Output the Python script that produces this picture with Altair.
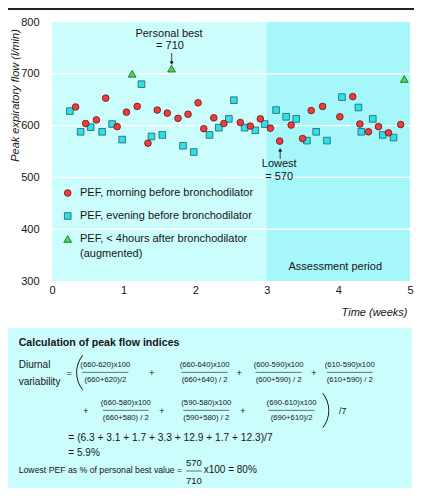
import altair as alt
import pandas as pd
import math

# ---------------- data ----------------
morning_weeks = [0.33, 0.47, 0.62, 0.75, 0.91, 1.04, 1.19, 1.34, 1.47, 1.61, 1.76, 1.90,
                 2.04, 2.12, 2.26, 2.40, 2.63, 2.77, 2.91, 3.05, 3.18, 3.34, 3.50, 3.62,
                 3.78, 4.02, 4.20, 4.30, 4.42, 4.56, 4.70, 4.87]
morning_pef = [636, 604, 611, 653, 598, 626, 637, 566, 630, 624, 614, 622,
               644, 594, 615, 604, 606, 599, 613, 595, 570, 601, 575, 629,
               637, 617, 656, 603, 588, 598, 586, 602]
evening_weeks = [0.25, 0.40, 0.54, 0.70, 0.84, 0.98, 1.25, 1.39, 1.54, 1.83, 1.98, 2.20,
                 2.33, 2.47, 2.54, 2.69, 2.84, 2.97, 3.13, 3.27, 3.41, 3.56, 3.69, 3.84,
                 4.05, 4.28, 4.32, 4.48, 4.62, 4.77]
evening_pef = [628, 588, 597, 588, 603, 573, 680, 579, 582, 561, 549, 582,
               596, 613, 649, 596, 591, 603, 630, 617, 613, 571, 588, 571,
               655, 635, 588, 613, 582, 577]
aug_weeks = [1.12, 1.67, 4.92]
aug_pef = [700, 710, 690]

x_ticks = [0, 1, 2, 3, 4, 5]
y_ticks = [300, 400, 500, 600, 700, 800]
grid_values = [400, 500, 600, 700]
assessment_start = [3]
assessment_end = [5]

legend_labels = ["PEF, morning before bronchodilator",
                 "PEF, evening before bronchodilator",
                 "PEF, < 4hours after bronchodilator",
                 "(augmented)"]

num_row1 = ["(660-620)x100", "(660-640)x100", "(600-590)x100", "(610-590)x100"]
den_row1 = ["(660+620)/2", "(660+640) / 2", "(600+590) / 2", "(610+590) / 2"]
num_row2 = ["(660-580)x100", "(590-580)x100", "(690-610)x100"]
den_row2 = ["(660+580) / 2", "(590+580) / 2", "(690+610)/2"]

# ---------------- layout ----------------
LEFT, RIGHT, TOP, BOTTOM = 44, 4, 14, 207
W, H = 358, 259
FONT = "Liberation Sans"
BG = "#ccfdfd"
BG_ASSESS = "#a6f7f9"
BOX = "#ccfdfd"
INK = "#151515"


def px(xref):
    # horizontal position inside the plot (reference page x -> plot-relative x)
    return (xref - 54) * W / 364.0


def bx(xref):
    # horizontal position for the calculation box (reference page x -> plot-relative x)
    return (xref - 3) * 404.0 / 415.0 - LEFT


xaxis = alt.Axis(values=x_ticks, grid=False, domain=False, ticks=False, labelPadding=3,
                 labelFlush=False, labelFont=FONT, labelFontSize=11, labelColor=INK,
                 title="Time (weeks)", titleFont=FONT, titleFontSize=11, titleFontStyle="italic",
                 titleFontWeight="normal", titleColor=INK, titleX=W - 3, titleY=34,
                 titleAlign="right", titleBaseline="alphabetic")
yaxis = alt.Axis(values=y_ticks, grid=False, domain=False, ticks=False, labelPadding=13,
                 labelFont=FONT, labelFontSize=11, labelColor=INK,
                 title="Peak expiratory flow (l/min)", titleFont=FONT, titleFontSize=11,
                 titleFontStyle="italic", titleFontWeight="normal", titleColor=INK,
                 titleX=-32, titleY=73, titleAlign="center", titleBaseline="bottom", titleAngle=270)

xscale = alt.Scale(domain=[0, 5], nice=False, zero=False)
yscale = alt.Scale(domain=[300, 800], nice=False, zero=False)


def X(f):
    return alt.X(f, type="quantitative", scale=xscale, axis=xaxis)


def Y(f):
    return alt.Y(f, type="quantitative", scale=yscale, axis=yaxis)


one = pd.DataFrame({"k": [0]})


def txt(s, x, y, size=11, align="left", weight="normal", style="normal"):
    return alt.Chart(one).mark_text(text=s, align=align, baseline="middle", font=FONT,
                                    fontSize=size, fontWeight=weight, fontStyle=style,
                                    color=INK).encode(x=alt.value(x), y=alt.value(y))


def hline(x1, x2, y, w=0.8, color=INK):
    return alt.Chart(one).mark_rule(color=color, strokeWidth=w).encode(
        x=alt.value(x1), x2=alt.value(x2), y=alt.value(y))


def vline(x, y1, y2, w=0.8):
    return alt.Chart(one).mark_rule(color=INK, strokeWidth=w).encode(
        x=alt.value(x), y=alt.value(y1), y2=alt.value(y2))


def sym(shape, x, y, fill, stroke, size):
    return alt.Chart(one).mark_point(shape=shape, filled=True, fill=fill, stroke=stroke,
                                     strokeWidth=0.8, size=size, opacity=1).encode(
        x=alt.value(x), y=alt.value(y))


def paren(cx, cy, r, mid_angle, half):
    # thin curved bracket drawn as a narrow arc band
    return alt.Chart(one).mark_arc(radius=r, radius2=r - 0.9, theta=mid_angle - half,
                                   theta2=mid_angle + half, color=INK).encode(
        x=alt.value(cx), y=alt.value(cy))


def frac(cx, ynum, yden, num, den, bw=46, size=7.7):
    ybar = (ynum + yden) / 2
    return [txt(num, cx, ynum, size=size, align="center"),
            hline(cx - bw / 2, cx + bw / 2, ybar, w=0.6),
            txt(den, cx, yden, size=size, align="center")]


RED, RED_S = "#f23c3c", "#5a1414"
CYN, CYN_S = "#33dfe6", "#1a6268"
GRN, GRN_S = "#44dd44", "#1d5a1d"

# ---------------- plot layers ----------------
assess = alt.Chart(pd.DataFrame({"start": assessment_start, "end": assessment_end})).mark_rect(
    color=BG_ASSESS).encode(x=X("start"), x2="end", y=alt.value(0), y2=alt.value(H))

grid = alt.Chart(pd.DataFrame({"v": grid_values})).mark_rule(color="white", strokeWidth=1.4).encode(
    y=Y("v"))

evening = alt.Chart(pd.DataFrame({"week": evening_weeks, "pef": evening_pef})).mark_point(
    shape="square", filled=True, fill=CYN, stroke=CYN_S, strokeWidth=0.8, size=44, opacity=1).encode(
    x=X("week"), y=Y("pef"))
morning = alt.Chart(pd.DataFrame({"week": morning_weeks, "pef": morning_pef})).mark_point(
    shape="circle", filled=True, fill=RED, stroke=RED_S, strokeWidth=0.8, size=44, opacity=1).encode(
    x=X("week"), y=Y("pef"))
aug = alt.Chart(pd.DataFrame({"week": aug_weeks, "pef": aug_pef})).mark_point(
    shape="triangle-up", filled=True, fill=GRN, stroke=GRN_S, strokeWidth=0.8, size=60, opacity=1).encode(
    x=X("week"), y=Y("pef"))

layers = [assess, grid, evening, morning, aug]

# annotations inside plot
layers += [txt("Personal best", px(173), 11.5, align="center"),
           txt("= 710", px(174), 23.5, align="center"),
           vline(px(175.7), 31, 40), sym("triangle-down", px(175.7), 41, INK, INK, 8)]
layers += [txt("Lowest", px(285), 141.5, align="center"),
           txt("= 570", px(285), 155, align="center"),
           vline(px(286), 129, 137), sym("triangle-up", px(286), 128, INK, INK, 8)]
layers += [txt("Assessment period", px(342), 245, align="center")]

# legend
layers += [sym("circle", px(70), 171, RED, RED_S, 44),
           sym("square", px(70), 194, CYN, CYN_S, 44),
           sym("triangle-up", px(70), 217, GRN, GRN_S, 60),
           txt(legend_labels[0], px(82.5), 171),
           txt(legend_labels[1], px(82.5), 194),
           txt(legend_labels[2], px(82.5), 217),
           txt(legend_labels[3], px(82.5), 231.5)]

# top rule
layers += [hline(-LEFT, W + RIGHT, -13, w=2, color="#222")]

# ---------------- calculation box ----------------
layers += [alt.Chart(one).mark_rect(color=BOX).encode(
    x=alt.value(bx(3)), x2=alt.value(bx(418)), y=alt.value(306), y2=alt.value(466))]
layers += [txt("Calculation of peak flow indices", bx(14), 320.5, size=10.6, weight="bold"),
           txt("Diurnal", bx(14), 343, size=10),
           txt("variability", bx(14), 359.5, size=10),
           txt("=", bx(66), 351, size=9.5, align="center"),
           paren(bx(73) + 28, 350.5, 28, 1.5 * math.pi, 0.68)]

cx1 = [103, 205, 281, 354]
plus1 = [150.7, 240.7, 317]
for i in range(4):
    layers += frac(bx(cx1[i]), 342.7, 358, num_row1[i], den_row1[i])
for p in plus1:
    layers += [txt("+", bx(p), 351, size=9.5, align="center")]

cx2 = [124, 206.7, 294.3]
plus2 = [83, 161, 244.3]
for i in range(3):
    layers += frac(bx(cx2[i]), 380.7, 396, num_row2[i], den_row2[i])
for p in plus2:
    layers += [txt("+", bx(p), 389, size=9.5, align="center")]
layers += [paren(bx(333) - 28, 388.5, 28, 0.5 * math.pi, 0.68),
           txt("/7", bx(343), 389, size=9)]

layers += [txt("= (6.3  +  3.1  +  1.7  +  3.3  +  12.9  +  1.7  +  12.3)/7", bx(65), 416, size=10.2),
           txt("= 5.9%", bx(65), 431, size=10),
           txt("Lowest PEF as % of personal best value =", bx(14), 448, size=8.7),
           txt("570", bx(194), 440.5, size=9.5, align="center"),
           hline(bx(186), bx(202), 449, w=0.6),
           txt("710", bx(194), 458.5, size=9.5, align="center"),
           txt("x100  =  80%", bx(204), 448, size=10)]

chart = alt.layer(*layers).properties(
    width=W, height=H,
    autosize=alt.AutoSizeParams(type="none"),
    padding={"left": LEFT, "top": TOP, "right": RIGHT, "bottom": BOTTOM},
).configure_view(fill=BG, stroke=None)

chart.save("out.html", embed_options={"renderer": "svg", "actions": False})
